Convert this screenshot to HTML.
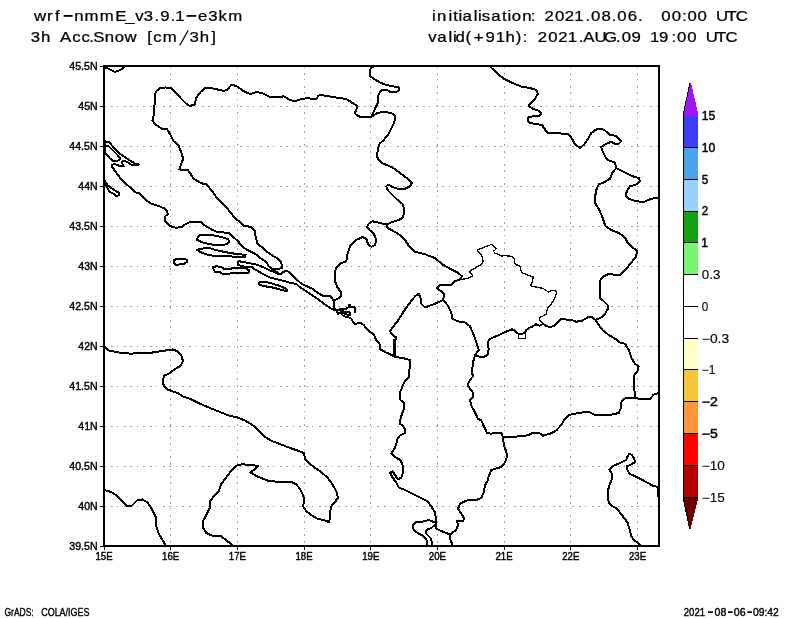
<!DOCTYPE html>
<html><head><meta charset="utf-8"><title>GrADS</title>
<style>
html,body{margin:0;padding:0;background:#fff;}
body{width:800px;height:618px;overflow:hidden;position:relative;font-family:"Liberation Sans",sans-serif;}
svg{position:absolute;left:0;top:0;display:block;}
text{font-family:"Liberation Sans",sans-serif;fill:#000;}
svg{will-change:transform;}
.map path{fill:none;stroke:#000;stroke-linejoin:round;stroke-linecap:round;}
.grid line{stroke:#a0a0a0;stroke-width:1;stroke-dasharray:2 4.5 2 4.5 1 5.5;}
.ticks line{stroke:#000;stroke-width:1;}
.lab text{font-size:11.8px;stroke:#000;stroke-width:0.45px;}
.cbl{font-size:12px;stroke:#000;stroke-width:0.45px;}
.cbl.lt{stroke-width:0.12px;}
.hdr text{font-size:14.2px;stroke:#000;stroke-width:0.25px;}
.ftr text{font-size:11px;stroke:#000;stroke-width:0.4px;}
</style></head><body>
<svg width="800" height="618" viewBox="0 0 800 618">
<rect width="800" height="618" fill="#fff"/>
<g class="hdr">
<text transform="scale(1.18,1)" y="20.8" x="28.8 39.8 46.7 63.0 71.6 84.5 97.6 106.1 114.6 121.8 130.9 135.8 144.7 148.6 167.9 176.5 185.1 193.5">wrfnmmE_v3.9.1e3km</text>
<text transform="scale(1.18,1)" y="42.5" x="26.1 34.7 50.8 61.2 69.1 75.7 79.0 88.7 97.3 105.5 124.7 129.8 137.9 160.6 169.2 179.1">3hAcc.Snow[cm3h]</text>
<text transform="scale(1.18,1)" y="21.2" x="366.1 370.4 380.0 384.1 388.5 392.0 401.6 405.0 408.3 416.3 425.4 430.2 433.7 442.6 449.9 461.4 470.3 478.6 486.7 496.1 500.8 509.7 518.5 523.1 532.0 540.6 560.4 569.3 578.2 582.6 591.1 606.7 615.6 623.6">initialisation:2021.08.06.00:00UTC</text>
<text transform="scale(1.18,1)" y="42.5" x="362.9 370.6 380.0 383.8 386.0 394.5 401.5 411.4 420.2 428.3 437.1 443.1 455.7 464.6 473.1 481.2 490.4 494.3 503.8 511.9 522.1 526.9 535.1 550.8 558.5 569.0 573.7 582.4 598.1 606.7 614.8">valid(+91h):2021.AUG.0919:00UTC</text>
<rect x="63.7" y="15" width="9" height="1.8" fill="#000"/>
<rect x="186.5" y="15" width="9.7" height="1.8" fill="#000"/>
<line x1="179.8" y1="45.3" x2="188.3" y2="30.2" stroke="#000" stroke-width="1.3"/>
</g>
<g class="grid" shape-rendering="crispEdges">
<line x1="170.7" y1="66" x2="170.7" y2="546"/>
<line x1="237.4" y1="66" x2="237.4" y2="546"/>
<line x1="304.1" y1="66" x2="304.1" y2="546"/>
<line x1="370.8" y1="66" x2="370.8" y2="546"/>
<line x1="437.4" y1="66" x2="437.4" y2="546"/>
<line x1="504.1" y1="66" x2="504.1" y2="546"/>
<line x1="570.8" y1="66" x2="570.8" y2="546"/>
<line x1="637.5" y1="66" x2="637.5" y2="546"/>
<line x1="104" y1="106.5" x2="659" y2="106.5"/>
<line x1="104" y1="146.5" x2="659" y2="146.5"/>
<line x1="104" y1="186.5" x2="659" y2="186.5"/>
<line x1="104" y1="226.5" x2="659" y2="226.5"/>
<line x1="104" y1="266.5" x2="659" y2="266.5"/>
<line x1="104" y1="306.5" x2="659" y2="306.5"/>
<line x1="104" y1="346.5" x2="659" y2="346.5"/>
<line x1="104" y1="386.5" x2="659" y2="386.5"/>
<line x1="104" y1="426.5" x2="659" y2="426.5"/>
<line x1="104" y1="466.5" x2="659" y2="466.5"/>
<line x1="104" y1="506.5" x2="659" y2="506.5"/>
</g>
<g class="map" shape-rendering="crispEdges">
<path d="M104.50,67.00 L109.00,69.00 L115.00,72.00 L119.00,70.50 L122.50,68.75 L124.25,66.25" stroke-width="2.0"/>
<path d="M300.00,99.50 L294.50,101.25 L290.00,100.00 L283.75,96.25 L280.00,97.00 L270.00,97.00 L263.75,93.75 L257.00,92.00 L250.00,94.00 L243.75,91.25 L237.50,86.75 L231.75,84.50 L227.50,89.50 L223.75,91.00 L217.50,89.50 L211.25,88.00 L205.00,88.00 L200.00,92.50 L196.25,98.00 L194.50,104.50 L190.00,106.00 L186.25,103.75 L181.25,98.75 L176.25,93.00 L171.25,88.00 L165.50,87.50 L160.00,88.00 L156.25,91.25 L154.50,95.00 L154.50,105.00 L154.00,113.75 L152.50,120.50 L154.50,123.75 L161.25,128.50 L167.00,129.25 L170.50,135.00 L173.75,141.25 L178.75,145.75 L181.25,152.50 L183.25,158.75 L181.25,163.75 L179.50,169.50 L187.50,169.50 L190.50,173.75 L193.75,178.75 L201.25,183.25 L206.25,184.25 L211.25,190.00 L217.50,198.75 L222.50,203.10 L227.50,208.75 L232.50,215.00 L236.25,219.40 L240.00,221.90 L243.75,225.60 L250.60,226.90 L255.00,230.60 L255.60,236.90 L257.50,243.75 L262.50,247.50 L266.90,251.90 L272.50,255.60 L278.10,258.75 L281.25,261.90 L281.90,268.10 L277.50,269.00 L271.90,269.00" stroke-width="2.0"/>
<path d="M105.00,141.25 L109.40,142.50 L113.75,147.50 L120.00,153.75 L125.00,157.25 L131.25,161.25 L135.00,163.50 L138.75,164.40 L138.10,165.25 L131.25,164.75 L126.90,161.90 L123.10,160.60 L121.90,162.50 L123.75,166.25 L119.40,166.25 L117.50,165.00 L113.75,164.00 L111.90,165.00 L112.50,167.50 L116.25,172.50 L121.25,179.40 L128.75,186.25 L135.60,192.50 L138.75,193.10 L143.10,196.90 L147.50,201.25 L151.25,203.75 L155.00,204.75 L160.00,206.50 L164.40,208.50 L166.90,211.25 L168.10,214.40 L165.60,215.60 L164.75,218.10 L165.00,221.25 L168.10,224.40 L171.90,226.90 L176.25,227.75 L181.90,226.90 L185.00,224.40 L190.00,221.90 L195.00,221.50 L200.60,221.50 L203.10,224.40 L207.50,227.25 L212.50,230.00 L218.10,232.25 L223.75,232.50 L228.75,232.75 L233.10,236.90 L238.10,241.25 L241.25,245.60 L246.25,249.40 L255.00,253.75 L261.25,258.75 L266.90,262.50 L268.75,266.25 L271.90,269.00 L275.00,271.00 L278.75,273.50" stroke-width="2.0"/>
<path d="M105.60,145.60 L108.75,146.25 L112.50,150.00 L117.50,155.00 L120.25,158.10 L119.40,160.00 L116.25,161.00 L113.10,161.00 L110.00,158.50 L106.90,155.00 L105.25,153.10 L105.25,150.00 L105.60,145.60" stroke-width="2.0"/>
<path d="M104.80,141.00 L104.80,153.00" stroke-width="3"/>
<path d="M105.00,181.25 L107.50,185.00 L111.25,188.10 L116.25,191.25 L119.40,193.10 L118.75,195.25 L116.25,196.25 L112.50,193.10 L109.40,191.90 L107.75,188.75 L106.90,186.25 L105.25,185.00" stroke-width="2.0"/>
<path d="M199.40,235.00 L207.50,234.75 L215.00,235.60 L222.50,237.25 L228.10,239.40 L229.40,241.90 L226.25,244.40 L221.25,245.00 L213.75,244.75 L207.50,243.75 L201.25,241.90 L196.90,239.75 L198.10,236.90 L199.40,235.00" stroke-width="2.0"/>
<path d="M196.90,249.75 L201.25,248.75 L208.10,247.75 L213.75,249.40 L221.25,251.25 L228.75,252.75 L235.00,253.75 L240.00,254.40 L245.60,254.75 L245.00,257.25 L237.50,257.25 L230.00,256.25 L220.00,256.00 L212.50,255.60 L207.50,254.75 L202.50,253.10 L199.40,251.50 L196.90,249.75" stroke-width="2.0"/>
<path d="M174.40,260.00 L177.50,258.75 L183.10,258.50 L187.25,260.00 L186.90,261.90 L184.40,263.75 L180.00,264.40 L176.25,265.00 L174.00,263.10 L174.40,260.00" stroke-width="2.0"/>
<path d="M212.50,267.50 L216.25,266.25 L221.25,266.90 L223.75,268.75 L230.00,269.00 L235.00,267.50 L241.25,267.50 L246.25,268.50 L249.40,270.60 L248.10,273.10 L241.25,273.10 L231.25,273.10 L226.25,274.40 L222.50,273.75 L220.00,272.25 L215.00,271.90 L213.75,269.40 L212.50,267.50" stroke-width="2.0"/>
<path d="M238.10,261.90 L239.00,261.25 L246.25,262.50 L257.50,264.75 L263.75,267.50 L268.75,270.00 L275.00,272.25 L278.75,274.40 L281.25,274.40 L282.50,272.50 L285.00,271.25 L288.10,271.50 L291.25,274.40 L296.25,279.40 L302.50,284.40 L312.50,288.75 L317.50,292.50 L322.50,295.60 L330.00,295.90 L333.75,300.60" stroke-width="2.0"/>
<path d="M238.10,261.90 L238.10,265.00 L242.50,266.25 L247.50,267.50 L251.25,266.60 L255.00,269.40 L262.50,273.75 L270.00,277.50 L277.50,279.40 L285.00,281.25 L291.25,283.10 L296.25,283.75 L298.75,286.25 L302.50,288.75 L310.00,293.75 L317.50,298.75 L325.00,304.40 L331.25,308.75 L336.25,310.60 L338.10,313.75 L340.00,312.50 L343.75,316.25 L348.75,317.50 L351.25,318.75 L352.50,321.25 L355.00,323.75 L361.25,323.10 L363.75,325.00 L366.25,328.10 L370.00,331.90 L373.75,334.40 L376.25,340.00 L379.50,343.75 L380.50,349.50 L386.25,352.50 L392.50,355.50 L395.00,357.00" stroke-width="2.0"/>
<path d="M258.75,283.10 L261.25,281.50 L266.25,281.90 L272.50,283.75 L280.00,286.00 L286.25,288.75 L287.50,290.25 L286.25,291.25 L280.00,289.40 L272.50,287.50 L265.00,286.25 L260.00,285.00 L258.75,283.10" stroke-width="2.0"/>
<path d="M333.75,300.60 L334.00,307.50 L336.25,310.60 L340.00,309.40 L346.25,308.75 L348.75,306.90 L349.40,304.75 L351.25,306.90 L355.00,307.50 L355.25,311.90" stroke-width="2.0"/>
<path d="M340.00,310.00 L345.00,311.90 L350.00,312.50 L350.60,315.00 L346.25,314.40 L342.50,313.10 L340.00,310.00" stroke-width="2.0"/>
<path d="M300.00,99.50 L307.50,98.00 L315.50,99.50 L318.75,95.50 L321.25,95.00 L332.50,97.00 L346.25,99.00 L353.75,103.75 L357.50,106.25 L356.25,110.00 L354.50,113.00 L358.00,116.25 L365.50,117.50 L371.25,117.00 L377.50,113.00 L383.75,111.75 L391.25,113.00 L395.00,115.50 L395.00,120.00 L392.50,126.25 L388.75,133.75 L383.75,140.00 L379.50,143.75 L378.00,148.75 L377.00,156.25 L378.75,160.00 L382.50,163.25 L392.50,167.50 L400.00,173.00 L407.50,178.75 L412.00,182.50 L410.00,186.25 L405.00,188.75 L398.75,189.00 L392.50,187.00 L388.00,184.50 L386.25,186.25 L388.00,190.50 L393.75,196.25 L397.50,200.00 L402.50,203.75 L404.50,210.00 L403.00,217.50 L398.75,220.00 L391.25,222.50 L386.25,224.50" stroke-width="2.0"/>
<path d="M371.25,117.00 L375.00,108.75 L378.00,102.50 L377.50,97.50 L380.00,92.00 L382.50,89.50 L386.25,89.50 L390.00,91.75 L396.25,92.00 L399.25,90.00 L398.75,87.50 L392.50,86.25 L386.25,85.00 L380.00,82.50 L373.75,78.75 L369.50,75.50 L369.50,71.25 L371.25,67.00 L375.00,66.25" stroke-width="2.0"/>
<path d="M490.50,67.00 L496.25,72.50 L503.75,78.75 L512.50,83.00 L521.25,86.50 L530.00,88.00 L536.25,90.00 L538.00,93.75 L535.00,98.75 L531.25,103.00 L528.75,105.75 L532.50,108.75 L538.75,110.75 L541.25,113.00 L540.00,115.50 L533.75,116.25 L528.75,117.00 L527.50,120.00 L529.50,123.00 L536.25,124.00 L542.00,125.00 L544.50,128.75 L547.00,132.50 L555.00,133.00 L568.75,134.25 L572.00,138.75 L575.00,144.50 L580.00,148.00 L583.75,145.00 L588.00,138.75 L591.25,133.00 L596.25,129.50 L601.25,128.75 L605.00,130.50 L610.00,135.00 L616.25,135.75 L618.75,138.75 L621.25,141.25 L618.75,143.75 L615.00,143.75 L611.25,141.75 L606.25,143.75 L601.25,147.00 L602.50,151.25 L605.00,156.25 L607.50,160.00 L615.00,162.50 L616.25,168.00" stroke-width="2.0"/>
<path d="M616.25,168.00 L612.50,172.50 L610.00,178.75 L603.75,182.50 L598.75,184.25 L596.25,190.00 L595.00,197.50 L595.50,203.75 L598.75,208.75 L602.50,217.50 L605.50,226.25 L611.25,230.00 L618.75,233.00 L625.00,237.50 L627.50,242.50 L632.50,247.50 L637.00,250.50 L636.25,256.25 L631.25,262.50 L626.25,268.75 L620.50,274.50 L612.50,274.50 L608.75,274.00 L603.75,276.25 L600.00,280.50 L600.00,288.75 L600.00,298.00 L603.75,301.25 L607.50,305.00 L608.00,308.75 L605.00,313.75 L601.25,317.50 L595.50,320.00" stroke-width="2.0"/>
<path d="M616.25,168.00 L625.00,172.50 L632.50,176.25 L638.75,178.00 L640.00,181.25 L636.25,184.50 L630.00,186.25 L627.50,190.00 L625.50,195.00 L628.75,198.75 L636.25,201.25 L643.75,202.00 L651.25,198.75 L658.75,197.50" stroke-width="2.0"/>
<path d="M386.25,224.50 L380.00,223.00 L372.50,221.25 L368.75,223.75 L367.00,227.00 L370.00,230.50 L373.75,233.75 L376.25,240.00 L375.00,245.00 L371.25,246.75 L368.00,243.75 L366.25,238.75 L362.50,237.00 L356.25,240.00 L350.00,246.25 L347.50,253.75 L346.25,261.25 L340.00,263.75 L336.25,267.50 L334.50,273.75 L335.00,281.25 L337.50,287.50 L341.25,292.50 L341.25,296.25 L337.50,298.75 L333.75,300.60" stroke-width="2.0"/>
<path d="M386.25,224.50 L387.50,228.00 L393.75,231.25 L400.00,235.00 L405.00,240.00 L410.00,247.50 L415.00,251.75 L425.00,254.25 L435.00,258.00 L442.50,264.50 L450.00,268.75 L457.50,272.50 L462.00,276.25 L460.00,279.50 L455.00,281.25 L451.25,285.00 L445.00,285.50 L440.00,285.00 L437.00,288.00 L440.00,290.50 L444.50,293.75 L443.00,300.00" stroke-width="2.0"/>
<path d="M443.00,300.00 L435.00,303.75 L425.00,307.50 L421.25,303.75 L420.50,297.50 L418.75,293.75 L415.00,296.25 L410.00,302.50 L403.75,311.25 L397.50,321.25 L392.50,327.50 L390.00,331.25 L393.75,336.25 L396.25,337.50 L394.50,343.75 L393.75,350.00 L394.50,357.00" stroke-width="2.0"/>
<path d="M394.80,340.00 L394.20,356.00" stroke-width="3"/>
<path d="M443.00,300.00 L447.50,305.00 L451.25,312.50 L452.50,318.75 L457.50,321.25 L465.00,322.50 L470.00,326.25 L473.75,335.00 L476.25,342.50 L478.75,350.00 L475.00,355.00 L473.00,362.50 L472.00,372.50 L473.00,376.25 L470.00,380.00 L467.50,385.00 L470.00,388.75 L473.00,392.50 L473.00,397.50 L470.00,400.00 L471.25,405.50 L475.00,412.50 L478.00,418.75 L481.25,420.50 L484.50,427.50 L487.00,433.00 L491.25,433.75 L496.25,432.50 L501.25,433.00 L503.00,436.75" stroke-width="2.0"/>
<path d="M462.00,279.30 L466.60,278.60 L472.80,276.30 L471.90,274.50 L469.60,272.40 L471.90,269.70 L475.50,267.90 L478.10,266.10 L481.70,264.40 L483.10,261.70 L482.60,258.10 L481.70,255.50 L479.00,252.80 L477.20,250.10 L479.90,248.90 L484.40,247.10 L487.90,246.00 L491.50,244.30 L493.30,245.70 L496.30,248.30 L495.00,250.10 L493.30,251.00 L494.50,252.80 L497.70,254.20 L501.60,256.00 L504.80,255.50 L508.40,256.00 L512.00,256.40 L514.10,259.00 L514.60,262.60 L516.40,264.90 L518.70,265.30 L520.50,267.00 L520.90,270.60 L522.60,273.30 L526.20,274.20 L529.80,275.90 L533.30,276.80 L532.40,281.30 L530.60,285.70 L534.20,286.60 L538.70,287.50 L543.10,288.40 L545.80,290.20 L548.40,292.00 L552.00,290.50 L555.00,290.20 L556.50,292.80 L555.60,296.40 L553.80,300.00 L552.00,302.60 L550.20,305.30 L547.60,308.00 L546.70,311.50 L546.10,314.20 L543.10,316.00 L540.10,317.20 L539.50,319.60 L541.30,322.20 L543.10,324.00" stroke-width="1.3"/>
<path d="M543.10,324.00 L539.50,325.80 L536.00,324.30 L532.40,326.70 L528.90,327.90 L526.20,330.20 L524.40,333.30 L521.00,333.80 L517.30,333.40 L514.60,330.20 L512.00,329.30 L508.40,330.80 L503.10,332.90 L497.70,335.60 L493.30,337.30 L489.70,339.10 L487.90,341.80 L487.80,346.00 L488.75,348.75 L487.50,355.00 L483.75,357.00 L477.00,356.25" stroke-width="2.0"/>
<path d="M518.20,333.80 L525.30,333.80 L525.30,338.20 L518.20,338.20 L518.20,333.80" stroke-width="1.0"/>
<path d="M595.50,320.00 L592.00,316.75 L587.50,317.50 L582.50,320.50 L576.25,321.75 L571.25,320.00 L566.25,319.50 L561.25,318.90 L557.40,322.20 L553.80,325.80 L550.20,327.20 L546.70,326.10 L543.10,324.00" stroke-width="2.0"/>
<path d="M595.50,320.00 L598.75,325.00 L602.50,330.00 L608.75,335.00 L616.25,339.50 L620.00,342.50 L625.00,343.75 L628.75,350.00 L631.25,357.50 L635.00,363.75 L638.75,366.25 L637.50,371.25 L634.50,375.00 L633.75,382.50 L634.50,391.25 L635.50,398.00" stroke-width="2.0"/>
<path d="M635.50,398.00 L642.50,399.50 L650.00,398.75 L653.75,394.50 L658.75,393.00" stroke-width="2.0"/>
<path d="M635.50,398.00 L628.75,398.00 L623.75,398.75 L621.25,402.50 L620.50,408.75 L618.75,413.00 L612.50,414.50 L603.75,415.50 L595.00,415.00 L590.00,412.50 L585.00,412.00 L577.50,413.25 L568.75,415.00 L565.00,418.75 L561.25,425.00 L556.25,430.50 L550.00,433.75 L542.50,435.75 L539.50,433.00 L532.50,433.00 L528.75,435.00 L522.50,436.25 L512.50,436.75 L503.00,436.75" stroke-width="2.0"/>
<path d="M503.00,436.75 L503.75,445.00 L506.25,451.25 L507.00,456.25 L505.00,462.50 L501.25,467.00 L495.00,468.75 L491.25,470.00 L488.75,476.25 L487.50,481.25 L485.00,485.00 L483.75,492.50 L481.25,498.00 L476.25,500.00 L468.75,500.00 L465.00,501.25 L460.00,503.75 L458.00,508.75 L461.25,513.75 L464.50,518.75 L462.50,521.25 L457.00,521.25 L458.00,525.00 L456.25,530.00 L450.00,534.50" stroke-width="2.0"/>
<path d="M395.00,357.00 L402.50,358.00 L410.00,360.00 L410.00,366.25 L408.75,372.50 L408.75,377.50 L405.00,381.25 L402.50,386.25 L400.00,392.50 L400.50,400.00 L403.75,402.50 L404.50,407.00 L402.50,412.50 L400.50,418.75 L399.50,423.75 L402.50,425.50 L405.00,429.50 L405.00,433.00 L400.00,435.50 L397.50,438.75 L396.25,443.75 L395.00,447.50 L391.25,453.75 L395.00,457.00 L400.50,460.00 L402.50,465.00 L403.00,472.50 L401.25,477.50 L398.00,479.50 L395.00,475.00 L392.50,471.25 L390.00,472.50 L392.50,477.50 L396.25,482.50 L398.75,487.50 L405.00,490.00 L412.50,493.75 L420.00,497.50 L427.50,501.25 L431.25,506.25 L435.00,512.50 L436.25,520.00 L436.25,528.75 L440.00,530.50 L446.25,533.00 L450.00,534.50 L450.00,538.75 L452.50,545.00" stroke-width="2.0"/>
<path d="M435.00,522.50 L428.75,520.00 L425.00,521.25 L420.00,522.00 L415.00,522.50 L412.50,526.25 L413.75,530.00 L417.50,533.00 L422.50,535.50 L426.25,538.75 L427.50,545.00" stroke-width="2.0"/>
<path d="M435.00,525.00 L431.25,528.00 L427.00,529.50 L425.50,533.00 L428.75,536.25 L431.25,538.75 L432.00,545.00" stroke-width="2.0"/>
<path d="M104.50,346.25 L108.75,350.50 L118.75,352.50 L131.25,353.75 L141.25,352.50 L152.50,352.50 L163.75,350.75 L172.50,349.50 L177.50,351.25 L181.25,355.00 L183.00,361.25 L180.50,365.75 L173.75,370.00 L168.75,373.75 L164.50,375.50 L162.50,380.00 L163.75,385.50 L167.50,389.50 L172.50,391.25 L177.50,393.00 L182.50,396.25 L190.00,398.75 L200.00,403.75 L210.00,408.00 L220.00,412.00 L228.75,415.50 L237.50,417.50 L245.00,420.50 L252.50,425.00 L258.75,430.50 L265.00,437.00 L272.50,441.25 L282.50,445.00 L290.00,448.00 L297.50,450.50 L303.75,453.00 L305.50,459.50 L311.25,465.00 L320.00,471.25 L327.50,477.50 L332.50,484.50 L336.25,491.25 L338.00,497.50 L335.00,502.00 L331.25,506.25 L330.00,512.50 L330.00,518.75 L328.75,522.00 L323.75,520.00 L317.50,518.75 L311.25,515.00 L306.25,511.25 L303.00,506.25 L304.50,500.00 L302.50,493.75 L300.00,488.75 L296.25,484.50 L291.25,481.75 L280.00,481.75 L269.50,481.25 L257.00,476.25 L250.50,472.50 L255.50,468.75 L258.00,465.75 L250.00,465.00 L242.00,464.25 L236.25,465.75 L231.25,470.50 L226.25,477.50 L221.25,483.75 L218.75,491.25 L213.75,496.25 L210.00,501.25 L209.50,508.75 L206.25,515.00 L203.00,521.25 L203.00,527.50 L206.25,533.00 L212.50,535.75 L221.25,536.25 L227.50,541.25 L232.50,545.00" stroke-width="2.0"/>
<path d="M104.50,490.00 L111.25,492.00 L117.50,496.25 L122.50,501.25 L127.00,505.75 L132.00,505.50 L137.50,500.00 L142.50,499.50 L147.50,502.50 L151.25,508.00 L155.50,516.25 L156.25,526.25 L158.75,533.75 L162.50,540.00 L165.50,545.00" stroke-width="2.0"/>
<path d="M658.75,487.50 L652.50,485.50 L642.50,480.00 L635.00,476.25 L629.50,473.75 L627.50,470.00 L627.00,466.25 L631.25,464.50 L635.00,462.00 L633.75,457.50 L631.25,454.50 L629.50,453.75 L627.50,456.25 L626.25,460.00 L620.00,463.00 L612.50,466.25 L609.25,469.50 L612.00,473.75 L612.00,478.75 L610.00,483.75 L608.00,490.00 L607.50,496.25 L608.75,502.50 L612.50,506.25 L616.25,508.00 L620.00,512.50 L623.75,517.50 L627.50,522.50 L629.50,528.75 L631.25,536.25 L633.75,540.00 L637.50,542.50 L640.50,545.00" stroke-width="2.0"/>
<path d="M658.30,487.50 L658.00,496.00" stroke-width="2.5"/>
</g>
<rect x="104" y="66" width="555" height="480" fill="none" stroke="#000" stroke-width="2" shape-rendering="crispEdges"/>
<g class="ticks" shape-rendering="crispEdges">
<line x1="100" y1="66.5" x2="104" y2="66.5"/>
<line x1="100" y1="106.5" x2="104" y2="106.5"/>
<line x1="100" y1="146.5" x2="104" y2="146.5"/>
<line x1="100" y1="186.5" x2="104" y2="186.5"/>
<line x1="100" y1="226.5" x2="104" y2="226.5"/>
<line x1="100" y1="266.5" x2="104" y2="266.5"/>
<line x1="100" y1="306.5" x2="104" y2="306.5"/>
<line x1="100" y1="346.5" x2="104" y2="346.5"/>
<line x1="100" y1="386.5" x2="104" y2="386.5"/>
<line x1="100" y1="426.5" x2="104" y2="426.5"/>
<line x1="100" y1="466.5" x2="104" y2="466.5"/>
<line x1="100" y1="506.5" x2="104" y2="506.5"/>
<line x1="100" y1="546.5" x2="104" y2="546.5"/>
<line x1="104.0" y1="546" x2="104.0" y2="549.5"/>
<line x1="170.7" y1="546" x2="170.7" y2="549.5"/>
<line x1="237.4" y1="546" x2="237.4" y2="549.5"/>
<line x1="304.1" y1="546" x2="304.1" y2="549.5"/>
<line x1="370.8" y1="546" x2="370.8" y2="549.5"/>
<line x1="437.4" y1="546" x2="437.4" y2="549.5"/>
<line x1="504.1" y1="546" x2="504.1" y2="549.5"/>
<line x1="570.8" y1="546" x2="570.8" y2="549.5"/>
<line x1="637.5" y1="546" x2="637.5" y2="549.5"/>
</g>
<g class="lab">
<text x="69.3" y="70.3" textLength="28.3" lengthAdjust="spacingAndGlyphs">45.5N</text>
<text x="78.3" y="110.3" textLength="19.3" lengthAdjust="spacingAndGlyphs">45N</text>
<text x="69.3" y="150.3" textLength="28.3" lengthAdjust="spacingAndGlyphs">44.5N</text>
<text x="78.3" y="190.3" textLength="19.3" lengthAdjust="spacingAndGlyphs">44N</text>
<text x="69.3" y="230.3" textLength="28.3" lengthAdjust="spacingAndGlyphs">43.5N</text>
<text x="78.3" y="270.3" textLength="19.3" lengthAdjust="spacingAndGlyphs">43N</text>
<text x="69.3" y="310.3" textLength="28.3" lengthAdjust="spacingAndGlyphs">42.5N</text>
<text x="78.3" y="350.3" textLength="19.3" lengthAdjust="spacingAndGlyphs">42N</text>
<text x="69.3" y="390.3" textLength="28.3" lengthAdjust="spacingAndGlyphs">41.5N</text>
<text x="78.3" y="430.3" textLength="19.3" lengthAdjust="spacingAndGlyphs">41N</text>
<text x="69.3" y="470.3" textLength="28.3" lengthAdjust="spacingAndGlyphs">40.5N</text>
<text x="78.3" y="510.3" textLength="19.3" lengthAdjust="spacingAndGlyphs">40N</text>
<text x="69.3" y="550.3" textLength="28.3" lengthAdjust="spacingAndGlyphs">39.5N</text>
<text x="95.4" y="559.6" textLength="17.2" lengthAdjust="spacingAndGlyphs">15E</text>
<text x="162.1" y="559.6" textLength="17.2" lengthAdjust="spacingAndGlyphs">16E</text>
<text x="228.8" y="559.6" textLength="17.2" lengthAdjust="spacingAndGlyphs">17E</text>
<text x="295.5" y="559.6" textLength="17.2" lengthAdjust="spacingAndGlyphs">18E</text>
<text x="362.2" y="559.6" textLength="17.2" lengthAdjust="spacingAndGlyphs">19E</text>
<text x="428.8" y="559.6" textLength="17.2" lengthAdjust="spacingAndGlyphs">20E</text>
<text x="495.5" y="559.6" textLength="17.2" lengthAdjust="spacingAndGlyphs">21E</text>
<text x="562.2" y="559.6" textLength="17.2" lengthAdjust="spacingAndGlyphs">22E</text>
<text x="628.9" y="559.6" textLength="17.2" lengthAdjust="spacingAndGlyphs">23E</text>
</g>
<g class="cb" shape-rendering="crispEdges">
<polygon points="684,116.5 684,113 690,83 691,83 698,113 698,116.5" fill="#a014f5"/>
<rect x="684" y="116.0" width="14" height="31.3" fill="#3c3cfa"/>
<rect x="684" y="147.3" width="14" height="32.0" fill="#50a0f0"/>
<rect x="684" y="179.3" width="14" height="31.7" fill="#96d2fa"/>
<rect x="684" y="211.0" width="14" height="31.3" fill="#14a014"/>
<rect x="684" y="242.3" width="14" height="31.9" fill="#78f573"/>
<rect x="684" y="338.2" width="14" height="31.3" fill="#ffffc8"/>
<rect x="684" y="369.5" width="14" height="31.8" fill="#f5c83c"/>
<rect x="684" y="401.3" width="14" height="32.2" fill="#ff963c"/>
<rect x="684" y="433.5" width="14" height="31.7" fill="#ff0000"/>
<rect x="684" y="465.2" width="14" height="32.1" fill="#b40000"/>
<polygon points="684,497.3 698,497.3 698,499.5 690.5,529 689.5,529 684,499.5" fill="#6e0000"/>
<path d="M690,83 L683.5,113 L683.5,499.5 L689.5,528" stroke="#000" stroke-width="1" fill="none"/>
<line x1="683" y1="147.3" x2="698" y2="147.3" stroke="#000" stroke-width="1"/>
<line x1="683" y1="179.3" x2="698" y2="179.3" stroke="#000" stroke-width="1"/>
<line x1="683" y1="211.0" x2="698" y2="211.0" stroke="#000" stroke-width="1"/>
<line x1="683" y1="242.3" x2="698" y2="242.3" stroke="#000" stroke-width="1"/>
<line x1="683" y1="274.2" x2="698" y2="274.2" stroke="#000" stroke-width="1"/>
<line x1="683" y1="306.3" x2="698" y2="306.3" stroke="#000" stroke-width="1"/>
<line x1="683" y1="338.2" x2="698" y2="338.2" stroke="#000" stroke-width="1"/>
<line x1="683" y1="369.5" x2="698" y2="369.5" stroke="#000" stroke-width="1"/>
<line x1="683" y1="401.3" x2="698" y2="401.3" stroke="#000" stroke-width="1"/>
<line x1="683" y1="433.5" x2="698" y2="433.5" stroke="#000" stroke-width="1"/>
<line x1="683" y1="465.2" x2="698" y2="465.2" stroke="#000" stroke-width="1"/>
<line x1="683" y1="497.3" x2="698" y2="497.3" stroke="#000" stroke-width="1"/>
<text class="cbl" x="701.8" y="120.4" textLength="13.5" lengthAdjust="spacingAndGlyphs">15</text>
<text class="cbl" x="701.8" y="151.7" textLength="13.5" lengthAdjust="spacingAndGlyphs">10</text>
<text class="cbl" x="701.8" y="183.7" textLength="6.5" lengthAdjust="spacingAndGlyphs">5</text>
<text class="cbl" x="701.8" y="215.4" textLength="6.5" lengthAdjust="spacingAndGlyphs">2</text>
<text class="cbl" x="701.2" y="246.7">1</text>
<text class="cbl lt" x="701.8" y="278.6" textLength="18.5" lengthAdjust="spacingAndGlyphs">0.3</text>
<text class="cbl lt" x="701.8" y="310.7" textLength="6.5" lengthAdjust="spacingAndGlyphs">0</text>
<text class="cbl lt" x="701.8" y="342.6" textLength="27.4" lengthAdjust="spacingAndGlyphs">−0.3</text>
<text class="cbl lt" x="701.8" y="373.9" textLength="13.5" lengthAdjust="spacingAndGlyphs">−1</text>
<text class="cbl" x="701.8" y="405.7" textLength="16" lengthAdjust="spacingAndGlyphs">−2</text>
<text class="cbl" x="701.8" y="437.9" textLength="16" lengthAdjust="spacingAndGlyphs">−5</text>
<text class="cbl lt" x="701.8" y="469.6" textLength="23" lengthAdjust="spacingAndGlyphs">−10</text>
<text class="cbl lt" x="701.8" y="501.7" textLength="23" lengthAdjust="spacingAndGlyphs">−15</text>
</g>
<g class="ftr">
<text x="4.5" y="616" textLength="29.2" lengthAdjust="spacingAndGlyphs">GrADS:</text>
<text x="41.2" y="616" textLength="48.3" lengthAdjust="spacingAndGlyphs">COLA/IGES</text>
<text x="683.8" y="616" textLength="21.2" lengthAdjust="spacingAndGlyphs">2021</text>
<text x="714.5" y="616" textLength="11.8" lengthAdjust="spacingAndGlyphs">08</text>
<text x="733.8" y="616" textLength="11.8" lengthAdjust="spacingAndGlyphs">06</text>
<text x="753" y="616" textLength="25.8" lengthAdjust="spacingAndGlyphs">09:42</text>
<rect x="708" y="611.3" width="5" height="1.7" fill="#000"/>
<rect x="728" y="611.3" width="4.6" height="1.7" fill="#000"/>
<rect x="747.4" y="611.3" width="4.6" height="1.7" fill="#000"/>
</g>
</svg>
</body></html>
